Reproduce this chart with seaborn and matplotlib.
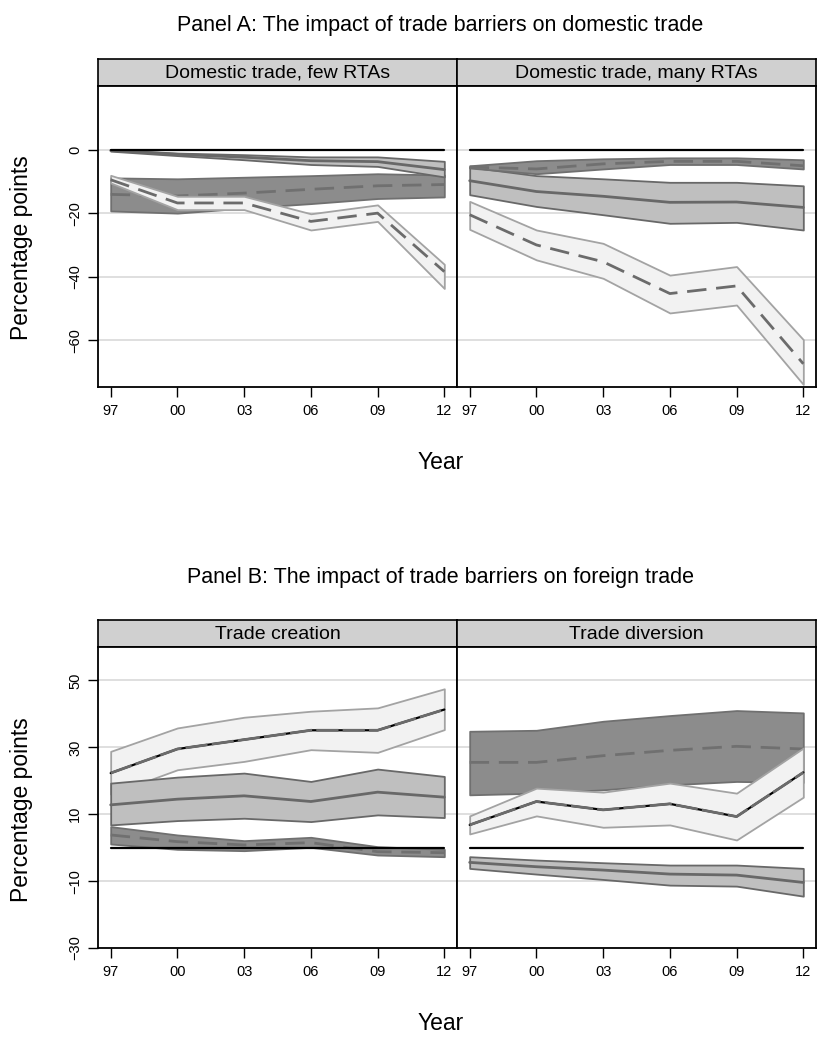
import numpy as np
import seaborn as sns
import matplotlib.pyplot as plt

sns.set_style("white")
plt.rcParams['font.family'] = ['Liberation Sans', 'DejaVu Sans']
plt.rcParams['text.color'] = 'black'
plt.rcParams['xtick.color'] = 'black'
plt.rcParams['ytick.color'] = 'black'

years = ["97", "00", "03", "06", "09", "12"]
xpos = np.arange(len(years))

# Panel A, domestic trade, few RTAs
few_dark_hi = [-8.9, -9.2, -8.7, -8.2, -7.6, -8.0]
few_dark_mid = [-14.1, -14.6, -13.7, -12.5, -11.4, -11.0]
few_dark_lo = [-19.3, -20.0, -18.4, -17.0, -15.4, -14.9]
few_light_hi = [-8.1, -14.7, -14.7, -20.2, -17.4, -36.1]
few_light_mid = [-9.5, -16.8, -16.8, -22.6, -20.0, -38.4]
few_light_lo = [-10.5, -18.9, -18.9, -25.3, -22.6, -43.7]
few_med_hi = [0.0, -1.1, -1.6, -2.3, -2.3, -3.7]
few_med_mid = [-0.3, -1.5, -2.4, -3.5, -3.8, -6.3]
few_med_lo = [-0.5, -1.9, -3.2, -4.7, -5.3, -8.6]

# Panel A, domestic trade, many RTAs
many_dark_hi = [-5.1, -3.5, -2.9, -2.6, -2.6, -3.2]
many_dark_mid = [-5.5, -6.1, -4.5, -3.7, -3.7, -5.1]
many_dark_lo = [-5.8, -7.6, -6.1, -4.7, -4.7, -6.1]
many_light_hi = [-16.3, -25.3, -29.5, -39.5, -36.8, -59.8]
many_light_mid = [-20.5, -30.0, -35.3, -45.3, -42.9, -67.4]
many_light_lo = [-25.1, -34.7, -40.5, -51.4, -48.9, -73.9]
many_med_hi = [-5.5, -8.2, -9.2, -10.3, -10.3, -11.4]
many_med_mid = [-9.8, -13.2, -14.7, -16.6, -16.5, -18.2]
many_med_lo = [-14.2, -17.9, -20.5, -23.2, -22.9, -25.3]

# Panel B, trade creation
cre_dark_hi = [6.3, 3.8, 2.1, 3.1, 0.3, -0.5]
cre_dark_mid = [3.8, 1.8, 0.8, 1.5, -1.2, -1.5]
cre_dark_lo = [1.1, -0.5, -0.9, 0.1, -2.2, -2.7]
cre_light_hi = [28.8, 35.8, 39.0, 40.8, 41.8, 47.5]
cre_light_mid = [22.3, 29.5, 32.3, 35.1, 35.1, 41.3]
cre_light_lo = [16.0, 23.3, 25.8, 29.3, 28.5, 35.3]
cre_med_hi = [19.3, 21.1, 22.3, 19.8, 23.5, 21.3]
cre_med_mid = [12.8, 14.5, 15.5, 13.8, 16.6, 15.1]
cre_med_lo = [6.8, 8.1, 8.8, 7.8, 9.8, 9.0]

# Panel B, trade diversion
div_dark_hi = [34.8, 35.1, 37.8, 39.5, 41.0, 40.3]
div_dark_mid = [25.5, 25.5, 27.5, 29.1, 30.3, 29.5]
div_dark_lo = [15.8, 16.3, 17.3, 18.8, 19.8, 19.5]
div_light_hi = [9.5, 17.8, 16.6, 19.3, 16.3, 29.8]
div_light_mid = [6.8, 13.8, 11.3, 13.1, 9.3, 22.5]
div_light_lo = [4.1, 9.5, 6.1, 6.8, 2.3, 15.1]
div_med_hi = [-2.7, -3.7, -4.5, -5.2, -5.2, -6.2]
div_med_mid = [-4.4, -5.7, -6.7, -7.9, -8.2, -10.4]
div_med_lo = [-6.2, -7.9, -9.5, -11.2, -11.5, -14.5]

DARK_FILL, DARK_EDGE = "#8c8c8c", "#707070"
MED_FILL, MED_EDGE = "#bfbfbf", "#686868"
LIGHT_FILL, LIGHT_EDGE = "#f2f2f2", "#a3a3a3"

W, H = 818, 1038
fig = plt.figure(figsize=(W / 100, H / 100), dpi=100)


def rect(x0, y0, x1, y1):
    return [x0 / W, 1 - y1 / H, (x1 - x0) / W, (y1 - y0) / H]


def band(ax, lo, mid, hi, kind, z, black_mid=False):
    if kind == "dark":
        fc, ec, ls, lc = DARK_FILL, DARK_EDGE, (0, (7, 3.5)), "#707070"
    elif kind == "med":
        fc, ec, ls, lc = MED_FILL, MED_EDGE, "-", "#686868"
    else:
        fc, ec, ls, lc = LIGHT_FILL, LIGHT_EDGE, (0, (7, 3.5)), "#6b6b6b"
    ax.fill_between(xpos, lo, hi, facecolor=fc, edgecolor=ec, linewidth=1.3, zorder=z)
    if black_mid:
        sns.lineplot(x=xpos, y=mid, ax=ax, color="black", linewidth=1.6, zorder=z + 0.5)
        sns.lineplot(x=xpos, y=mid, ax=ax, color=lc, linewidth=2.0,
                     linestyle=(0, (8, 1.5)), zorder=z + 0.6)
    else:
        sns.lineplot(x=xpos, y=mid, ax=ax, color=lc, linewidth=2.0, linestyle=ls, zorder=z + 0.5)


def panel(x0, x1, y0, y1, strip_text, ylim, yticks, show_y):
    sax = fig.add_axes(rect(x0, y0 - 27, x1, y0))
    sax.set_facecolor("#d0d0d0")
    sax.set_xticks([])
    sax.set_yticks([])
    for sp in sax.spines.values():
        sp.set_color("black")
        sp.set_linewidth(1.2)
    sax.text(0.5, 0.48, strip_text, ha="center", va="center", fontsize=14,
             color="black", transform=sax.transAxes)

    ax = fig.add_axes(rect(x0, y0, x1, y1))
    ax.set_xlim(-0.19, 5.19)
    ax.set_ylim(*ylim)
    ax.set_xticks(xpos)
    ax.set_xticklabels(years)
    ax.set_yticks(yticks)
    ax.yaxis.grid(True, color="#dcdcdc", linewidth=1.3)
    ax.set_axisbelow(True)
    for sp in ax.spines.values():
        sp.set_color("black")
        sp.set_linewidth(1.3)
    ax.tick_params(axis="x", direction="out", length=7.5, width=1.0, colors="black",
                   labelsize=10.5, pad=5, bottom=True)
    if show_y:
        ax.tick_params(axis="y", direction="out", length=7.5, width=1.0, colors="black",
                       labelsize=10.5, pad=4, left=True, labelrotation=90)
        for lab in ax.get_yticklabels():
            lab.set_va("center")
    else:
        ax.tick_params(axis="y", left=False, labelleft=False)
    ax.set_xlabel("")
    ax.set_ylabel("")
    return ax


def zero(ax):
    sns.lineplot(x=xpos, y=np.zeros(len(xpos)), ax=ax, color="black", linewidth=1.6, zorder=20)


# Panel A
fig.text(440 / W, 1 - 26 / H, "Panel A: The impact of trade barriers on domestic trade",
         ha="center", va="center", fontsize=15.5)
a1 = panel(98, 457, 86, 387, "Domestic trade, few RTAs", (-74.7, 20), [-60, -40, -20, 0], True)
band(a1, few_dark_lo, few_dark_mid, few_dark_hi, "dark", 3)
band(a1, few_light_lo, few_light_mid, few_light_hi, "light", 5)
band(a1, few_med_lo, few_med_mid, few_med_hi, "med", 7)
zero(a1)
a2 = panel(457, 816, 86, 387, "Domestic trade, many RTAs", (-74.7, 20), [-60, -40, -20, 0], False)
band(a2, many_med_lo, many_med_mid, many_med_hi, "med", 3)
band(a2, many_dark_lo, many_dark_mid, many_dark_hi, "dark", 5)
band(a2, many_light_lo, many_light_mid, many_light_hi, "light", 7)
zero(a2)
fig.text(22 / W, 1 - 248 / H, "Percentage points", rotation=90, ha="center", va="center", fontsize=16.5)
fig.text(441 / W, 1 - 462 / H, "Year", ha="center", va="center", fontsize=16.5)

# Panel B
fig.text(440 / W, 1 - 577 / H, "Panel B: The impact of trade barriers on foreign trade",
         ha="center", va="center", fontsize=15.5)
b1 = panel(98, 457, 647, 948, "Trade creation", (-30, 60), [-30, -10, 10, 30, 50], True)
band(b1, cre_light_lo, cre_light_mid, cre_light_hi, "light", 3, black_mid=True)
band(b1, cre_dark_lo, cre_dark_mid, cre_dark_hi, "dark", 5)
band(b1, cre_med_lo, cre_med_mid, cre_med_hi, "med", 7)
zero(b1)
b2 = panel(457, 816, 647, 948, "Trade diversion", (-30, 60), [-30, -10, 10, 30, 50], False)
band(b2, div_dark_lo, div_dark_mid, div_dark_hi, "dark", 3)
band(b2, div_light_lo, div_light_mid, div_light_hi, "light", 5, black_mid=True)
band(b2, div_med_lo, div_med_mid, div_med_hi, "med", 7)
zero(b2)
fig.text(22 / W, 1 - 810 / H, "Percentage points", rotation=90, ha="center", va="center", fontsize=16.5)
fig.text(441 / W, 1 - 1023 / H, "Year", ha="center", va="center", fontsize=16.5)

fig.savefig("out.png", dpi=100, facecolor="white")
